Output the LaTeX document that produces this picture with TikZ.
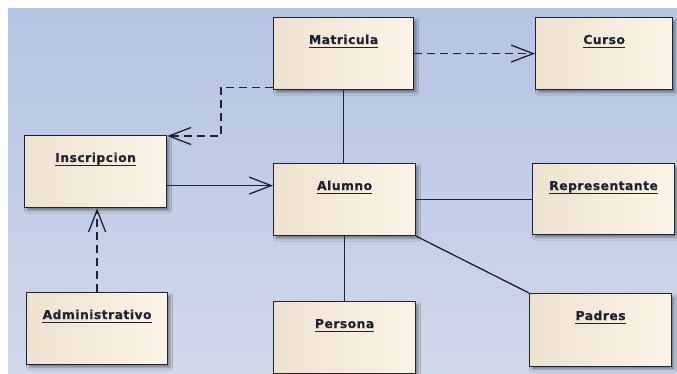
\documentclass[tikz,border=0pt]{standalone}
\usepackage{fontspec}
\setmainfont{DejaVu Sans}
\newfontfamily\titlefont[LetterSpace=4,FakeBold=0.4]{DejaVu Sans Bold}
\usetikzlibrary{arrows.meta,shadows.blur}

\definecolor{bgtop}{HTML}{B5C4E3}
\definecolor{bgbot}{HTML}{D0D8EB}
\definecolor{boxl}{HTML}{EEE2CF}
\definecolor{boxr}{HTML}{FCF4E7}
\definecolor{ink}{HTML}{1F2230}

\tikzset{
  classbox/.style={rectangle, draw=ink, line width=1.2pt, anchor=north west,
    left color=boxl, right color=boxr, inner sep=0pt,
    blur shadow={shadow xshift=2.5pt, shadow yshift=-3pt,
      shadow blur radius=2.5pt, shadow opacity=40}},
  classtitle/.style={anchor=base, inner sep=0pt, text=ink,
    font=\titlefont\fontsize{12.3}{14}\selectfont},
  uline/.style={draw=ink, line width=1pt},
  link/.style={draw=ink, line width=1.3pt},
  openhead/.style={-{Straight Barb[length=22pt,width=17pt,line width=1.3pt]}},
  dep/.style={link, openhead, dash pattern=on 8pt off 5pt},
  nav/.style={link, openhead},
}

% class box: name, left, top, width, height, title
\newcommand\umlclass[6]{%
  \node[classbox, minimum width=#4pt, minimum height=#5pt] (#1) at (#2,#3) {};
  \node[classtitle] (#1-t) at ([yshift=-27pt]#1.north) {#6};
  \draw[uline] ([yshift=-3.5pt]#1-t.base west) -- ([yshift=-3.5pt]#1-t.base east);
}

\begin{document}
\begin{tikzpicture}[x=1pt,y=-1pt]
  \useasboundingbox (0,0) rectangle (677,374);
  \fill[white] (0,0) rectangle (677,374);
  \shade[top color=bgtop, bottom color=bgbot] (8,9) rectangle (677,374);

  \umlclass{mat}{273}{17}{140}{72}{Matricula}
  \umlclass{cur}{535}{17}{137}{72}{Curso}
  \umlclass{ins}{24}{135}{142}{72}{Inscripcion}
  \umlclass{alu}{273}{163}{142}{72}{Alumno}
  \umlclass{rep}{532}{163}{142}{71}{Representante}
  \umlclass{adm}{26}{292}{141}{72}{Administrativo}
  \umlclass{per}{273}{301}{142}{72}{Persona}
  \umlclass{pad}{529}{293}{142}{73}{Padres}

  % dependencies
  \draw[dep] (mat.east) -- (cur.west |- mat.east);
  \draw[dep] ([yshift=3pt]mat.south west) -- ++(-52,0) |- ([yshift=-1pt]ins.north east);
  \draw[dep] (adm.north) -- (adm.north |- ins.south);

  % navigable association
  \coordinate (insout) at ([yshift=-14pt]ins.east);
  \draw[nav] (insout) -- (alu.west |- insout);

  % associations
  \draw[link] (mat.south) -- (mat.south |- alu.north);
  \draw[link] (alu.east) -- (rep.west |- alu.east);
  \draw[link] (alu.south) -- (alu.south |- per.north);
  \draw[link] (alu.south east) -- (pad.north west);
\end{tikzpicture}
\end{document}
